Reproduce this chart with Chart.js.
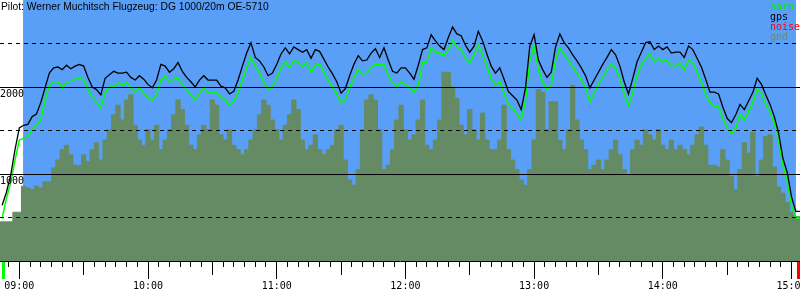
<!DOCTYPE html>
<html>
<head>
<meta charset="utf-8">
<script src="https://cdn.jsdelivr.net/npm/chart.js@4.4.0/dist/chart.umd.min.js"></script>
<style>
  html, body { margin: 0; padding: 0; background: #fff; }
  canvas { display: block; }
</style>
</head>
<body>
<canvas id="flight-chart" width="800" height="300"></canvas>
<script>
// FLIGHT BAROGRAM

const pilotTitle = "Pilot: Werner Muchitsch Flugzeug: DG 1000/20m OE-5710";

// sample times (2 min)
const sampleTimes = [
  "08:50", "08:52", "08:54", "08:56", "08:58",
  "09:00", "09:02", "09:04", "09:06", "09:08", "09:10", "09:12", "09:14", "09:16", "09:18",
  "09:20", "09:22", "09:24", "09:26", "09:28", "09:30", "09:32", "09:34", "09:36", "09:38",
  "09:40", "09:42", "09:44", "09:46", "09:48", "09:50", "09:52", "09:54", "09:56", "09:58",
  "10:00", "10:02", "10:04", "10:06", "10:08", "10:10", "10:12", "10:14", "10:16", "10:18",
  "10:20", "10:22", "10:24", "10:26", "10:28", "10:30", "10:32", "10:34", "10:36", "10:38",
  "10:40", "10:42", "10:44", "10:46", "10:48", "10:50", "10:52", "10:54", "10:56", "10:58",
  "11:00", "11:02", "11:04", "11:06", "11:08", "11:10", "11:12", "11:14", "11:16", "11:18",
  "11:20", "11:22", "11:24", "11:26", "11:28", "11:30", "11:32", "11:34", "11:36", "11:38",
  "11:40", "11:42", "11:44", "11:46", "11:48", "11:50", "11:52", "11:54", "11:56", "11:58",
  "12:00", "12:02", "12:04", "12:06", "12:08", "12:10", "12:12", "12:14", "12:16", "12:18",
  "12:20", "12:22", "12:24", "12:26", "12:28", "12:30", "12:32", "12:34", "12:36", "12:38",
  "12:40", "12:42", "12:44", "12:46", "12:48", "12:50", "12:52", "12:54", "12:56", "12:58",
  "13:00", "13:02", "13:04", "13:06", "13:08", "13:10", "13:12", "13:14", "13:16", "13:18",
  "13:20", "13:22", "13:24", "13:26", "13:28", "13:30", "13:32", "13:34", "13:36", "13:38",
  "13:40", "13:42", "13:44", "13:46", "13:48", "13:50", "13:52", "13:54", "13:56", "13:58",
  "14:00", "14:02", "14:04", "14:06", "14:08", "14:10", "14:12", "14:14", "14:16", "14:18",
  "14:20", "14:22", "14:24", "14:26", "14:28", "14:30", "14:32", "14:34", "14:36", "14:38",
  "14:40", "14:42", "14:44", "14:46", "14:48", "14:50", "14:52", "14:54", "14:56", "14:58",
  "15:00", "15:02", "15:04"
];

// altitudes in metres
const gpsAlt = [
  null,
  640, 790, 990, 1280, 1530, 1560, 1570, 1660, 1690, 1820,
  1990, 2160, 2220, 2230, 2200, 2250, 2210, 2240, 2260, 2240,
  2110, 2000, 1970, 1910, 2100, 2140, 2180, 2160, 2160, 2170,
  2110, 2080, 2130, 2090, 2030, 1990, 2080, 2260, 2240, 2170,
  2210, 2280, 2180, 2110, 2060, 2000, 2080, 2130, 2080, 2080,
  2080, 2010, 1990, 1920, 1950, 2080, 2240, 2390, 2510, 2340,
  2300, 2230, 2130, 2160, 2260, 2380, 2450, 2380, 2460, 2430,
  2400, 2430, 2330, 2430, 2410, 2320, 2230, 2150, 2060, 1930,
  1980, 2130, 2260, 2360, 2300, 2310, 2390, 2440, 2340, 2450,
  2310, 2180, 2160, 2220, 2220, 2160, 2090, 2250, 2430, 2450,
  2600, 2530, 2470, 2430, 2570, 2690, 2610, 2590, 2480, 2400,
  2470, 2640, 2530, 2380, 2240, 2160, 2220, 2090, 1950, 1900,
  1850, 1740, 1990, 2470, 2600, 2310, 2200, 2110, 2170, 2460,
  2610, 2510, 2450, 2370, 2300, 2220, 2130, 1990, 2080, 2170,
  2260, 2340, 2430, 2370, 2240, 2060, 1920, 2100, 2290, 2400,
  2510, 2520, 2430, 2470, 2430, 2460, 2390, 2400, 2400, 2340,
  2470, 2430, 2330, 2230, 2090, 1940, 1940, 1920, 1770, 1640,
  1590, 1680, 1800, 1740, 1840, 1940, 2100, 2030, 1910, 1800,
  1660, 1470, 1180, 1020, 740, 570, 570
];

const baroAlt = [
  null,
  490, 720, 900, 1160, 1390, 1410, 1430, 1510, 1560, 1620,
  1850, 2020, 2060, 2060, 1990, 2060, 2060, 2090, 2110, 2080,
  1970, 1890, 1820, 1760, 1940, 2000, 2000, 2050, 2020, 2050,
  1990, 1940, 1990, 1930, 1870, 1850, 1910, 2080, 2130, 2060,
  2090, 2100, 2030, 1970, 1910, 1850, 1930, 1990, 1930, 1930,
  1940, 1890, 1850, 1790, 1830, 1940, 2080, 2220, 2340, 2240,
  2160, 2060, 1970, 2000, 2100, 2220, 2290, 2220, 2310, 2280,
  2240, 2280, 2170, 2250, 2260, 2170, 2080, 2000, 1920, 1820,
  1860, 1990, 2110, 2200, 2150, 2160, 2220, 2260, 2260, 2260,
  2140, 2050, 2000, 2060, 2030, 1990, 1940, 2020, 2280, 2290,
  2450, 2400, 2390, 2360, 2430, 2540, 2460, 2430, 2330, 2280,
  2370, 2480, 2370, 2230, 2100, 2020, 2060, 1930, 1800, 1760,
  1690, 1620, 1850, 2310, 2470, 2200, 2060, 1970, 2020, 2310,
  2450, 2370, 2310, 2230, 2160, 2080, 1990, 1830, 1940, 2030,
  2110, 2200, 2260, 2220, 2100, 1920, 1790, 1940, 2140, 2250,
  2330, 2380, 2290, 2330, 2290, 2310, 2250, 2240, 2280, 2200,
  2310, 2280, 2170, 2060, 1910, 1820, 1780, 1770, 1640, 1530,
  1460, 1530, 1690, 1620, 1720, 1820, 1970, 1930, 1800, 1710,
  1590, 1390, 1100, 920, 640, 490, 490
];

const gndAlt = [
  450,
  450, 450, 450, 560, 560, 860, 840, 820, 860, 840,
  910, 910, 1070, 1160, 1280, 1330, 1220, 1100, 1100, 1220,
  1140, 1280, 1360, 1160, 1390, 1510, 1680, 1790, 1620, 1850,
  1910, 1560, 1390, 1330, 1510, 1390, 1560, 1280, 1390, 1510,
  1680, 1850, 1740, 1560, 1330, 1280, 1450, 1560, 1510, 1850,
  1790, 1450, 1390, 1510, 1330, 1280, 1220, 1280, 1390, 1510,
  1680, 1850, 1790, 1620, 1510, 1390, 1560, 1680, 1850, 1740,
  1390, 1280, 1330, 1450, 1280, 1220, 1280, 1330, 1510, 1560,
  1160, 930, 870, 1050, 1510, 1850, 1910, 1850, 1510, 1050,
  1100, 1280, 1620, 1790, 1510, 1390, 1450, 1620, 1850, 1330,
  1280, 1390, 1620, 2170, 2170, 2000, 1870, 1560, 1450, 1740,
  1510, 1390, 1700, 1390, 1280, 1280, 1390, 1790, 1280, 1160,
  1050, 930, 870, 1050, 1390, 1970, 1940, 1510, 1830, 1830,
  1390, 1280, 1510, 2020, 1620, 1390, 1280, 1050, 1100, 1160,
  1050, 1160, 1280, 1390, 1220, 1050, 990, 1280, 1390, 1330,
  1510, 1450, 1390, 1510, 1330, 1280, 1390, 1280, 1330, 1280,
  1220, 1330, 1450, 1540, 1330, 1100, 1100, 1080, 1280, 1160,
  970, 820, 1050, 1360, 1240, 1480, 970, 1160, 1430, 1450,
  1080, 850, 780, 670, 560, 510, 510
];

const flightWindow = ["09:01:45", "15:02:05"];
const takeoffTime = "08:52:30";
const landingTime = "15:03:25";
const axisStart = "08:51:00";
const axisEnd = "15:03:58";

const hourLabels = ["09:00", "10:00", "11:00", "12:00", "13:00", "14:00", "15:00"];
const altLabels = [1000, 2000];
const legendOrder = ["baro", "gps", "noise", "gnd"];

const skyBlue = "#5a9ff7";
const gndGreen = "#658b65";

function toMinutes(s) {
  const [h, m, sec] = s.split(":").map(Number);
  return h * 60 + m + (sec || 0) / 60;
}

function fmtTime(v) {
  const h = Math.floor(v / 60);
  const m = Math.round(v - h * 60);
  return String(h).padStart(2, "0") + ":" + String(m).padStart(2, "0");
}

const toPoints = vals => sampleTimes.map((t, i) => ({ x: toMinutes(t), y: vals[i] }));

const markerTicks = [toMinutes(takeoffTime), toMinutes(landingTime)];
const markerColor = v => (v === markerTicks[0] ? "#00ff00" : "#ff0000");

// title + legend text in the corners
const flightText = {
  id: "flightText",
  afterDraw(chart) {
    const ctx = chart.ctx;
    ctx.save();
    ctx.textAlign = "left";
    ctx.textBaseline = "alphabetic";
    ctx.fillStyle = "#000";
    ctx.font = "10.3px 'Liberation Sans'";
    ctx.fillText(pilotTitle, 1, 10);

    ctx.font = "10px 'DejaVu Sans Mono'";
    legendOrder.forEach((name, i) => {
      const ds = chart.data.datasets.find(d => d.label === name);
      ctx.fillStyle = ds.legendColor;
      ctx.fillText(name, 770, 10 + i * 10);
    });
    ctx.restore();
  }
};

new Chart(document.getElementById("flight-chart"), {
  type: "line",
  data: {
    datasets: [
      {
        label: "gps",
        data: toPoints(gpsAlt),
        borderColor: "#000000",
        legendColor: "#000000",
        borderWidth: 1.3,
        pointRadius: 0,
        fill: false,
        order: 0
      },
      {
        label: "baro",
        data: toPoints(baroAlt),
        borderColor: "#00ff00",
        legendColor: "#00ee00",
        borderWidth: 1.5,
        pointRadius: 0,
        fill: false,
        order: 1
      },
      {
        label: "noise",
        data: [], // no noise recorded
        borderColor: "#ff0000",
        legendColor: "#ff0000",
        pointRadius: 0,
        order: 2
      },
      {
        label: "gnd",
        data: toPoints(gndAlt),
        borderColor: gndGreen,
        backgroundColor: gndGreen,
        legendColor: "#6b8b6b",
        borderWidth: 1,
        pointRadius: 0,
        stepped: "middle",
        fill: "origin",
        order: 3
      },
      {
        label: "sky",
        data: flightWindow.map(t => ({ x: toMinutes(t), y: 3000 })),
        borderColor: "transparent",
        backgroundColor: skyBlue,
        borderWidth: 1,
        pointRadius: 0,
        fill: "origin",
        order: 4
      }
    ]
  },
  options: {
    responsive: false,
    animation: false,
    devicePixelRatio: 1,
    events: [],
    layout: { padding: 0 },
    plugins: {
      legend: { display: false },
      title: { display: false },
      tooltip: { enabled: false }
    },
    scales: {
      x: {
        type: "linear",
        min: toMinutes(axisStart),
        max: toMinutes(axisEnd),
        afterFit: scale => {
          scale.height = 39;
          scale.paddingLeft = 0;
          scale.paddingRight = 0;
        },
        afterBuildTicks: scale => {
          const ticks = scale.ticks.filter(t => Math.abs(t.value % 5) < 1e-6);
          markerTicks.forEach(v => ticks.push({ value: v }));
          scale.ticks = ticks.sort((a, b) => a.value - b.value);
        },
        ticks: {
          stepSize: 5,
          maxTicksLimit: 200,
          includeBounds: false,
          autoSkip: false,
          maxRotation: 0,
          padding: 1,
          color: "#000",
          font: { family: "DejaVu Sans Mono", size: 10 },
          callback: v => (markerTicks.includes(v) ? "" : (hourLabels.includes(fmtTime(v)) && v % 60 === 0 ? fmtTime(v) : ""))
        },
        grid: {
          drawOnChartArea: false,
          drawTicks: true,
          tickLength: 18,
          tickColor: ctx => (markerTicks.includes(ctx.tick.value) ? markerColor(ctx.tick.value) : "#000"),
          tickWidth: ctx => (markerTicks.includes(ctx.tick.value) ? 3 : 1),
          tickBorderDash: ctx => {
            const v = ctx.tick.value;
            if (markerTicks.includes(v) || v % 60 === 0) return [];
            return v % 30 === 0 ? [13, 40] : [5, 40];
          }
        },
        border: { display: true, color: "#000", width: 1 }
      },
      y: {
        min: 0,
        max: 3000,
        afterFit: scale => {
          scale.width = 0;
          scale.paddingTop = 0;
          scale.paddingBottom = 0;
        },
        ticks: {
          z: 1,
          stepSize: 500,
          mirror: true,
          padding: 0,
          labelOffset: 7,
          color: "#000",
          font: { family: "DejaVu Sans Mono", size: 10 },
          callback: v => (altLabels.includes(v) ? String(v) : "")
        },
        grid: {
          z: 1,
          drawTicks: false,
          lineWidth: 1,
          color: ctx => (ctx.tick.value === 0 || ctx.tick.value === 3000 ? "transparent" : "#000")
        },
        border: {
          display: false,
          dash: ctx => (ctx.tick && ctx.tick.value % 1000 === 0 ? [] : [4, 4])
        }
      }
    }
  },
  plugins: [flightText]
});
</script>
</body>
</html>
